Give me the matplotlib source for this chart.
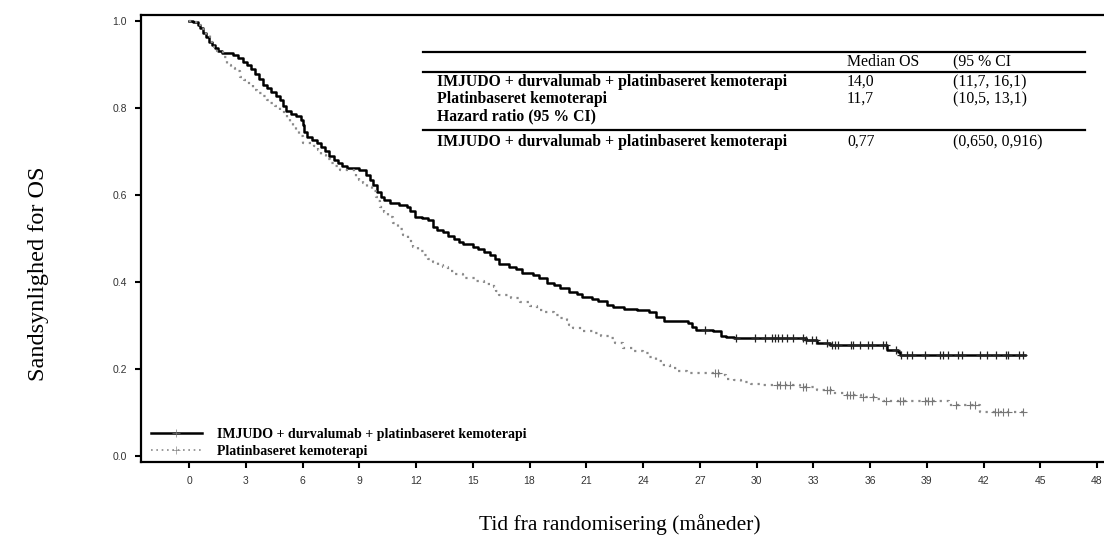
import numpy as np
import matplotlib
matplotlib.use("Agg")
from matplotlib import pyplot as plt
from matplotlib.lines import Line2D

"""data read from the reference"""
imj_t = [0.0, 0.2, 0.45, 0.6, 0.75, 0.9, 1.05, 1.2, 1.35, 1.55, 1.75, 2.3, 2.6, 2.85, 3.05,
         3.3, 3.5, 3.7, 3.9, 4.1, 4.35, 4.6, 4.8, 4.95, 5.1, 5.4, 5.65, 5.9, 6.0, 6.1, 6.25,
         6.5, 6.75, 6.95, 7.2, 7.4, 7.65, 7.85, 8.1, 8.35, 9.0, 9.35, 9.55, 9.75, 9.95,
         10.15, 10.3, 10.6, 11.1, 11.5, 11.7, 11.95, 12.3, 12.65, 12.9, 13.1, 13.4, 13.7,
         14.0, 14.25, 14.5, 15.0, 15.3, 15.6, 15.9, 16.15, 16.4, 16.9, 17.3, 17.6, 18.2,
         18.5, 18.9, 19.3, 19.6, 20.1, 20.5, 20.8, 21.3, 21.6, 22.1, 22.4, 23.0, 23.7,
         24.3, 24.7, 25.1, 26.4, 26.6, 26.8, 27.7, 28.1, 28.4, 28.8, 32.6, 33.2, 33.9,
         36.7, 36.9, 37.5, 37.6, 44.2]
imj_s = [1.000, 0.998, 0.990, 0.982, 0.972, 0.962, 0.952, 0.945, 0.937, 0.930, 0.925,
         0.922, 0.915, 0.906, 0.898, 0.889, 0.878, 0.866, 0.853, 0.846, 0.836, 0.826,
         0.818, 0.805, 0.792, 0.786, 0.780, 0.772, 0.760, 0.745, 0.733, 0.727, 0.718,
         0.710, 0.700, 0.690, 0.680, 0.672, 0.666, 0.661, 0.656, 0.646, 0.635, 0.622,
         0.607, 0.595, 0.588, 0.580, 0.576, 0.572, 0.562, 0.550, 0.546, 0.541, 0.525,
         0.520, 0.514, 0.506, 0.498, 0.492, 0.487, 0.481, 0.475, 0.468, 0.461, 0.452,
         0.440, 0.434, 0.429, 0.421, 0.416, 0.408, 0.398, 0.392, 0.386, 0.377, 0.371,
         0.366, 0.361, 0.357, 0.347, 0.342, 0.338, 0.336, 0.330, 0.320, 0.309, 0.305,
         0.297, 0.290, 0.286, 0.276, 0.273, 0.270, 0.266, 0.259, 0.255, 0.255, 0.244,
         0.240, 0.232, 0.232]
imj_cens = [27.3, 28.9, 29.9, 30.45, 30.8, 30.97, 31.15, 31.33, 31.59, 31.94, 32.47, 32.64,
            32.91, 33.17, 33.7, 33.97, 34.14, 34.32, 35.02, 35.11, 35.46, 35.9, 36.08, 36.7,
            36.87, 37.4, 37.66, 37.93, 38.2, 38.9, 39.7, 39.87, 40.13, 40.66, 40.84, 41.8,
            42.16, 42.68, 43.2, 43.3, 43.9, 44.1]

chemo_t = [0.0, 0.3, 0.5, 0.7, 0.9, 1.1, 1.3, 1.5, 1.8, 2.0, 2.2, 2.45, 2.7, 2.9, 3.15, 3.4,
           3.6, 3.85, 4.1, 4.3, 4.55, 4.8, 5.0, 5.2, 5.35, 5.5, 5.65, 5.8, 6.05, 6.6, 6.8,
           7.0, 7.25, 7.45, 7.7, 8.0, 8.7, 8.85, 9.0, 9.2, 9.4, 9.65, 9.9, 10.0, 10.1, 10.3,
           10.5, 10.8, 11.05, 11.3, 11.6, 11.85, 12.1, 12.4, 12.65, 12.9, 13.15, 13.4, 13.7,
           14.0, 14.5, 15.1, 15.6, 16.1, 16.25, 16.4, 17.0, 17.5, 18.0, 18.4, 18.8, 19.3,
           19.6, 19.96, 20.1, 20.3, 20.8, 21.4, 21.8, 22.25, 22.5, 22.95, 23.5, 24.0, 24.3,
           24.7, 25.0, 25.4, 25.8, 26.3, 27.8, 28.0, 28.4, 28.8, 29.2, 29.7, 30.2, 31.2,
           32.3, 33.2, 34.05, 34.75, 35.5, 36.3, 36.7, 40.0, 40.2, 41.6, 41.8, 44.1]
chemo_s = [1.000, 0.998, 0.990, 0.980, 0.968, 0.952, 0.940, 0.930, 0.917, 0.898, 0.892,
           0.884, 0.871, 0.864, 0.852, 0.841, 0.834, 0.826, 0.818, 0.812, 0.804, 0.795,
           0.786, 0.775, 0.766, 0.757, 0.746, 0.735, 0.718, 0.711, 0.702, 0.692, 0.682,
           0.672, 0.665, 0.657, 0.649, 0.641, 0.634, 0.627, 0.619, 0.608, 0.596, 0.585,
           0.573, 0.561, 0.550, 0.535, 0.521, 0.508, 0.494, 0.481, 0.471, 0.462, 0.453,
           0.446, 0.439, 0.433, 0.425, 0.418, 0.410, 0.402, 0.395, 0.389, 0.380, 0.370,
           0.362, 0.354, 0.345, 0.335, 0.330, 0.324, 0.318, 0.312, 0.302, 0.293, 0.288,
           0.282, 0.276, 0.270, 0.260, 0.247, 0.242, 0.236, 0.228, 0.218, 0.210, 0.201,
           0.196, 0.191, 0.191, 0.185, 0.178, 0.174, 0.170, 0.166, 0.163, 0.163, 0.159,
           0.152, 0.145, 0.140, 0.135, 0.132, 0.127, 0.127, 0.117, 0.117, 0.100, 0.100]
chemo_cens = [27.8, 27.98, 31.06, 31.24, 31.5, 31.77, 32.47, 32.64, 33.7, 33.88, 34.76,
              34.94, 35.11, 35.64, 36.17, 36.87, 37.58, 37.75, 38.9, 39.08, 39.26, 40.57,
              41.28, 41.54, 42.6, 42.77, 43.04, 43.3, 44.1]

labels = ['IMJUDO + durvalumab + platinbaseret kemoterapi', 'Platinbaseret kemoterapi']
x_ticks = list(range(0, 49, 3))
y_ticks = [0.0, 0.2, 0.4, 0.6, 0.8, 1.0]

tbl_head = ['Median OS', '(95 % CI']
tbl_rows = [('IMJUDO + durvalumab + platinbaseret kemoterapi', '14,0', '(11,7, 16,1)'),
            ('Platinbaseret kemoterapi', '11,7', '(10,5, 13,1)'),
            ('Hazard ratio (95 % CI)', '', ''),
            ('IMJUDO + durvalumab + platinbaseret kemoterapi', '0,77', '(0,650, 0,916)')]

W, H = 1104, 553
fig = plt.figure(figsize=(W / 100, H / 100), dpi=100)
ax = fig.add_axes([141 / W, 1 - 462 / H, 1 - 141 / W, (462 - 15) / H])

def step_at(ts, ss, c):
  i = np.searchsorted(ts, c, side='right') - 1
  return ss[i]

ax.plot(imj_t, imj_s, drawstyle='steps-post', color='black', lw=1.8)
ax.plot(chemo_t, chemo_s, drawstyle='steps-post', color='#8a8a8a', lw=1.6,
        linestyle=(0, (1, 2.2)))
ax.plot(imj_cens, [step_at(imj_t, imj_s, c) for c in imj_cens], '+', color='#222222',
        ms=6, mew=0.9)
ax.plot(chemo_cens, [step_at(chemo_t, chemo_s, c) for c in chemo_cens], '+',
        color='#777777', ms=6, mew=0.8)

ax.set_xlim(-2.54, 48.37)
ax.set_ylim(-0.0138, 1.013)
ax.set_xticks(x_ticks)
ax.set_yticks(y_ticks)
ax.set_yticklabels(['%.1f' % v for v in y_ticks])
ax.tick_params(direction='out', length=4, width=1.5, color='black', labelsize=7.5,
               labelcolor='#333333', pad=6)
for lab in ax.get_xticklabels() + ax.get_yticklabels():
  lab.set_family('Liberation Sans')
ax.spines['right'].set_visible(False)
for s in ['left', 'bottom', 'top']:
  ax.spines[s].set_linewidth(1.6)

"""legend"""
h1 = Line2D([], [], color='black', lw=1.8, marker='+', ms=6, mew=0.5, markeredgecolor='#777777')
h2 = Line2D([], [], color='#8a8a8a', lw=1.2, linestyle=(0, (1, 2.2)), marker='+', ms=6, mew=0.5)
ax.legend([h1, h2], labels, loc='lower left', bbox_to_anchor=(-0.003, -0.019), frameon=False,
          numpoints=1, handlelength=3.7, handletextpad=1.1, labelspacing=0.3,
          prop={'family': 'Liberation Serif', 'weight': 'bold', 'size': 10})

"""table"""
def fx(px):
  return px / W
def fy(py):
  return 1 - py / H

for py in [52, 72, 130]:
  fig.add_artist(Line2D([fx(423), fx(1085)], [fy(py), fy(py)], color='black', lw=1.6))
tfont = dict(family='Liberation Serif', fontsize=11.3, va='center')
fig.text(fx(847), fy(62), tbl_head[0], **tfont)
fig.text(fx(953), fy(62), tbl_head[1], **tfont)
for (name, med, ci), py in zip(tbl_rows, [82, 99, 116, 142]):
  fig.text(fx(437), fy(py), name, weight='bold', **tfont)
  fig.text(fx(847), fy(py), med, **tfont)
  fig.text(fx(953), fy(py), ci, **tfont)

fig.text(fx(39), fy(274), 'Sandsynlighed for OS', rotation=90, ha='center', va='center',
         family='Liberation Serif', fontsize=17.5)
fig.text(fx(620), fy(525), 'Tid fra randomisering (måneder)', ha='center', va='center',
         family='Liberation Serif', fontsize=15.5)

fig.savefig('out.png', dpi=100)
